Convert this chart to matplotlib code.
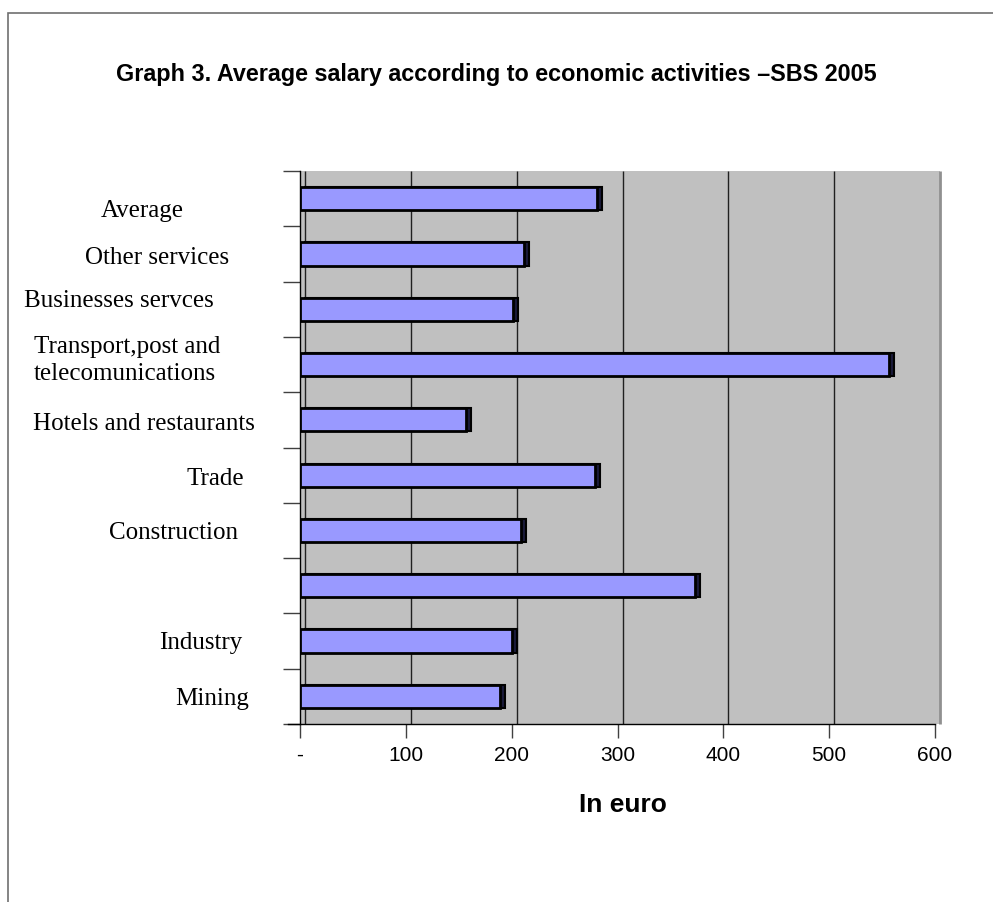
import numpy as np
import matplotlib.pyplot as plt
from matplotlib.patches import Rectangle
from matplotlib.transforms import ScaledTranslation

# bottom to top, as in the chart
categories = ["Mining", "Industry", "", "Construction", "Trade",
              "Hotels and restaurants", "Transport,post and\ntelecomunications",
              "Businesses servces", "Other services", "Average"]
salary = [189, 200, 373, 209, 279, 157, 557, 201, 212, 281]
xticks = [0, 100, 200, 300, 400, 500, 600]
xtick_labels = ["-", "100", "200", "300", "400", "500", "600"]

# label anchors in pixels - the source places each label box by hand
label_x = [212, 201, 0, 173, 215, 144, 34, 119, 157, 142]
label_ha = ["center"] * 6 + ["left"] + ["center"] * 3
label_dy = [2, 1, 0, 2, 3, 3, -5, -9, 3, 11]

W, H = 993, 903
fig = plt.figure(figsize=(W / 100, H / 100), dpi=100)
ax = fig.add_axes([300 / W, 1 - 725 / H, 635 / W, 553 / H])

gray = "#C0C0C0"
ax.set_facecolor(gray)
ax.set_xlim(0, 600)
ax.set_ylim(-0.5, len(categories) - 0.5)

# back wall, shifted a few pixels to the right (3d look)
shift = ScaledTranslation(5 / 100, 0, fig.dpi_scale_trans)
ax.add_patch(Rectangle((1, 0), 5 / 635, 1, transform=ax.transAxes,
                       facecolor=gray, edgecolor="none", clip_on=False))
ax.vlines(xticks, 0, 1, transform=ax.get_xaxis_transform() + shift,
          colors="#202020", lw=1, zorder=1)
ax.vlines([600], 0, 1, transform=ax.get_xaxis_transform() + shift,
          colors="#909090", lw=2, zorder=1, clip_on=False)

y = np.arange(len(categories))
h = 0.42
# depth of each bar
ax.barh(y, salary, height=h, color="#1a1a3a", edgecolor="black", lw=1.5,
        transform=ax.transData + shift, zorder=2)
ax.barh(y, salary, height=h, color="#9999FF", edgecolor="black", lw=2,
        zorder=3)

for s in ["top", "right"]:
    ax.spines[s].set_visible(False)
ax.spines["left"].set_linewidth(1)
ax.spines["bottom"].set_linewidth(1)
ax.spines["bottom"].set_bounds(-12 / 1.0583, 600)

ax.set_xticks(xticks)
ax.set_xticklabels(xtick_labels, fontsize=15, fontfamily="Liberation Sans")
ax.tick_params(axis="x", length=10, width=1, pad=5, color="#404040")

ax.set_yticks(y)
ax.set_yticklabels([])
ax.tick_params(axis="y", which="major", length=0)
ax.set_yticks(np.arange(-0.5, len(categories)), minor=True)
ax.tick_params(axis="y", which="minor", length=12, width=1, color="#404040")

for yi, name, lx, ha, dy in zip(y, categories, label_x, label_ha, label_dy):
    if not name:
        continue
    tr = ax.get_yaxis_transform() + ScaledTranslation(0, -dy / 100, fig.dpi_scale_trans)
    ax.text((lx - 300) / 635, yi, name, transform=tr, ha=ha, va="center",
            fontsize=18, fontfamily="Liberation Serif", linespacing=1.25)

fig.text(0.5, 1 - 75 / H, "Graph 3. Average salary according to economic activities \u2013SBS 2005",
         ha="center", va="center", fontsize=16.8, fontweight="bold",
         fontfamily="Liberation Sans")
fig.text(623 / W, 1 - 805 / H, "In euro", ha="center", va="center",
         fontsize=19, fontweight="bold", fontfamily="Liberation Sans")

# outer frame of the chart object
fig.add_artist(Rectangle((8 / W, -0.1), 1.2, 1 - 14 / H + 0.1,
                         transform=fig.transFigure, fill=False,
                         edgecolor="#707070", lw=1.2))

fig.savefig("out.png", dpi=100)
